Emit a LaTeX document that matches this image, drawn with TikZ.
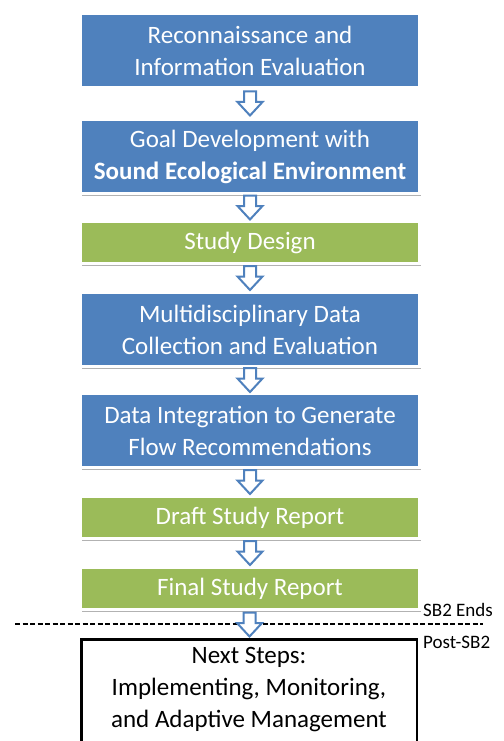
\documentclass[tikz,border=0pt]{standalone}
\usepackage{fontspec}
\setmainfont{Carlito}
\usetikzlibrary{calc,shadows}
\definecolor{boxblue}{HTML}{4F81BD}
\definecolor{boxgreen}{HTML}{9BBB59}
\tikzset{
  stage/.style={rectangle, draw=white, line width=3pt, minimum width=339pt, inner sep=0pt,
    text=white, align=center, font=\fontsize{25}{32}\selectfont,
    drop shadow={shadow xshift=1.5pt, shadow yshift=-2pt, opacity=0.3, fill=black}},
  bluestage/.style={stage, fill=boxblue, minimum height=74pt},
  greenstage/.style={stage, fill=boxgreen, minimum height=42pt},
  flowarr/.style={draw=boxblue, fill=white, line width=2pt, line join=miter},
  nextbox/.style={rectangle, draw=black, line width=2.5pt, minimum width=335.5pt, minimum height=122pt, inner sep=0pt},
  nexttext/.style={text=black, align=center, inner sep=0pt, font=\fontsize{25}{32}\selectfont},
  sidelabel/.style={text=black, inner sep=0pt, font=\fontsize{19}{22}\selectfont},
  divider/.style={draw=black, line width=1.2pt, dash pattern=on 5pt off 2.5pt}
}
\newcommand{\stagearrow}[2]{%
  \coordinate (#1-#2) at ($(#1.south)!0.5!(#2.north)$);
  \draw[flowarr] ($(#1-#2)+(-6,-12)$) -- ($(#1-#2)+(6,-12)$) -- ($(#1-#2)+(6,-1.5)$)
    -- ($(#1-#2)+(12.5,-1.5)$) -- ($(#1-#2)+(0,12)$) -- ($(#1-#2)+(-12.5,-1.5)$)
    -- ($(#1-#2)+(-6,-1.5)$) -- cycle;}
\begin{document}
\begin{tikzpicture}[x=1pt,y=-1pt]
\useasboundingbox (0,0) rectangle (503,741);
\clip (0,0) rectangle (503,741);
\fill[white] (0,0) rectangle (503,741);

\node[bluestage] (recon) at (250,50.5) {Reconnaissance and\\Information Evaluation};
\node[bluestage] (goal) at (250,156.5) {Goal Development with\\\textbf{Sound Ecological Environment}};
\node[greenstage] (design) at (250,242.5) {Study Design};
\node[bluestage] (collect) at (250,329.5) {Multidisciplinary Data\\Collection and Evaluation};
\node[bluestage] (integ) at (250,430.5) {Data Integration to Generate\\Flow Recommendations};
\node[greenstage] (draft) at (250,517.5) {Draft Study Report};
\node[greenstage] (final) at (250,588.5) {Final Study Report};

\coordinate (dl) at (15,624);
\coordinate (dr) at (483,624);
\draw[divider] (dl) -- (dr);

\node[nextbox, anchor=north] (next) at (249,638) {};
\node[nexttext] (nextlabel) at (249,690) {Next Steps:\\Implementing, Monitoring,\\and Adaptive Management};

\node[sidelabel, anchor=base west] (ends) at (423,616) {SB2 Ends};
\node[sidelabel, anchor=base west] (post) at (423,648) {Post-SB2};

\stagearrow{recon}{goal}
\stagearrow{goal}{design}
\stagearrow{design}{collect}
\stagearrow{collect}{integ}
\stagearrow{integ}{draft}
\stagearrow{draft}{final}
\stagearrow{final}{next}
\end{tikzpicture}
\end{document}
